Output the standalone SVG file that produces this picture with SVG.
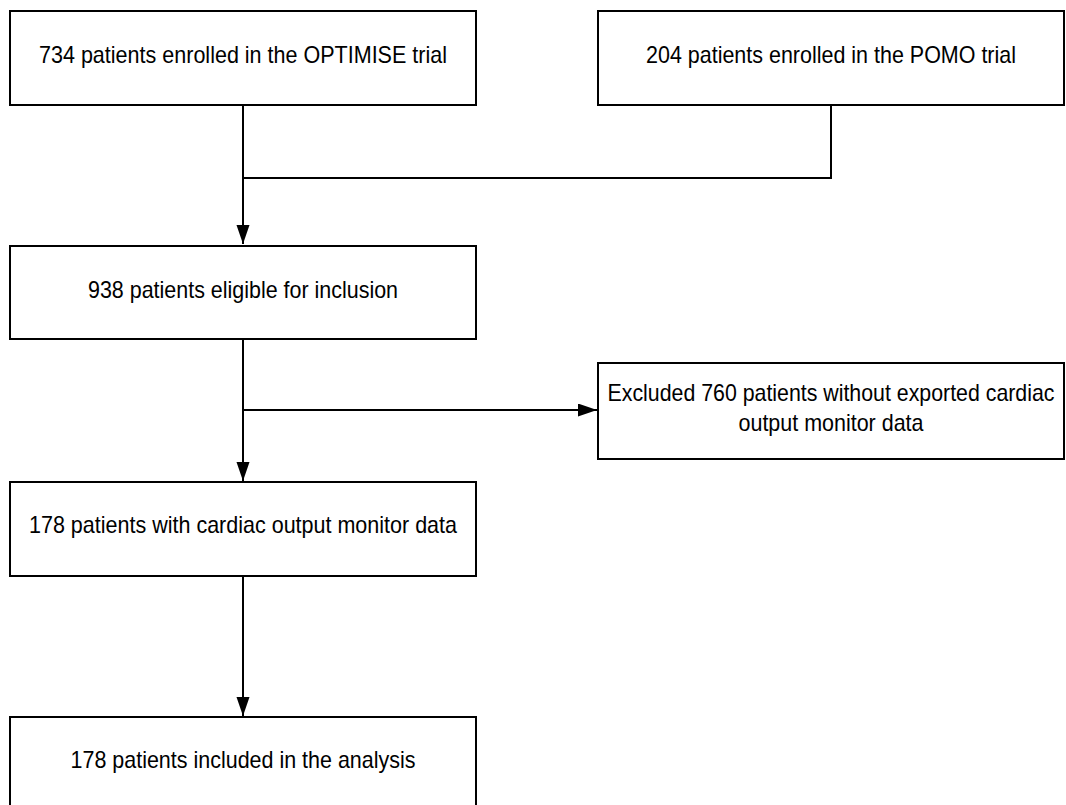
<svg xmlns="http://www.w3.org/2000/svg" width="1066" height="805" viewBox="0 0 1066 805">
<defs>
<marker id="arr" markerUnits="userSpaceOnUse" markerWidth="20" markerHeight="14" refX="19" refY="6.5" orient="auto">
<path d="M0,0 L19,6.5 L0,13 Z" fill="#000"/>
</marker>
<style>
.box{fill:#fff;stroke:#000;stroke-width:2}
.t{font-family:"Liberation Sans Narrow","Liberation Sans",Arial,sans-serif;font-size:24px;fill:#000;text-anchor:middle}
.c{fill:none;stroke:#000;stroke-width:2}
</style>
</defs>
<rect width="1066" height="805" fill="#fff"/>
<g id="connectors">
<path class="c" d="M243,105 V244" marker-end="url(#arr)"/>
<path class="c" d="M831,105 V178 H243"/>
<path class="c" d="M243,339 V481" marker-end="url(#arr)"/>
<path class="c" d="M243,410 H597" marker-end="url(#arr)"/>
<path class="c" d="M243,576 V716" marker-end="url(#arr)"/>
</g>
<g id="n1"><rect class="box" x="10" y="11" width="466" height="94"/><text class="t" x="243" y="63" textLength="408" lengthAdjust="spacingAndGlyphs">734 patients enrolled in the OPTIMISE trial</text></g>
<g id="n2"><rect class="box" x="598" y="11" width="466" height="94"/><text class="t" x="831" y="63" textLength="370" lengthAdjust="spacingAndGlyphs">204 patients enrolled in the POMO trial</text></g>
<g id="n3"><rect class="box" x="10" y="246" width="466" height="93"/><text class="t" x="243" y="298" textLength="310" lengthAdjust="spacingAndGlyphs">938 patients eligible for inclusion</text></g>
<g id="n4"><rect class="box" x="598" y="363" width="466" height="96"/><text class="t" x="831" y="401" textLength="447" lengthAdjust="spacingAndGlyphs">Excluded 760 patients without exported cardiac</text><text class="t" x="831" y="431" textLength="185" lengthAdjust="spacingAndGlyphs">output monitor data</text></g>
<g id="n5"><rect class="box" x="10" y="482" width="466" height="94"/><text class="t" x="243" y="533" textLength="428" lengthAdjust="spacingAndGlyphs">178 patients with cardiac output monitor data</text></g>
<g id="n6"><rect class="box" x="10" y="717" width="466" height="100"/><text class="t" x="243" y="768" textLength="345" lengthAdjust="spacingAndGlyphs">178 patients included in the analysis</text></g>
</svg>
